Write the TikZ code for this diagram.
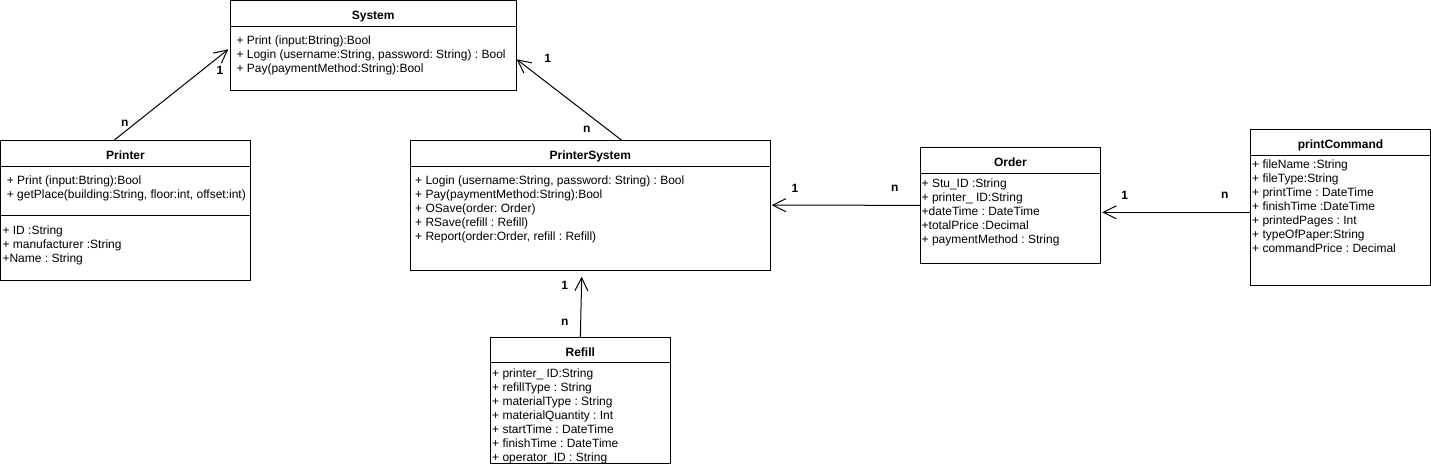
\documentclass[tikz,border=0pt]{standalone}
\usepackage{fontspec}
\setmainfont{Liberation Sans}
\usetikzlibrary{arrows.meta}
\newcommand{\fstrut}{\rule{0pt}{10pt}}
\frenchspacing
\begin{document}
\begin{tikzpicture}[x=1pt,y=-1pt,
  classbox/.style={draw,line width=1pt,anchor=north west,inner sep=0pt,outer sep=0pt},
  divider/.style={line width=1pt},
  ctitle/.style={font=\fontsize{12}{14}\selectfont\bfseries,anchor=base,inner sep=0pt},
  members/.style={font=\fontsize{12}{14}\selectfont\frenchspacing,anchor=north west,align=left,inner sep=0pt},
  mult/.style={font=\fontsize{12}{14}\selectfont\bfseries,inner sep=0pt},
  assoc/.style={line width=1pt,-{Straight Barb[length=13pt,width=13pt,line width=1pt]}}]
\useasboundingbox (0,0) rectangle (1431,464);

% System
\node[classbox,minimum width=285.7pt,minimum height=89.3pt] (system) at (230.3,0.7) {};
\node[ctitle] (systemT) at (373.2,19) {System};
\draw[divider] ([yshift=-25.6pt]system.north west) -- ([yshift=-25.6pt]system.north east);
\node[members] (systemM) at (236.3,34) {\fstrut+ Print (input:Btring):Bool\\+ Login (username:String, password: String) : Bool\\+ Pay(paymentMethod:String):Bool};

% Printer
\node[classbox,minimum width=249.6pt,minimum height=139.7pt] (printer) at (0.7,140.3) {};
\node[ctitle] (printerT) at (125.5,159) {Printer};
\draw[divider] ([yshift=-26pt]printer.north west) -- ([yshift=-26pt]printer.north east);
\node[members] (printerM) at (6.7,174) {\fstrut+ Print (input:Btring):Bool\\+ getPlace(building:String, floor:int, offset:int)};
\draw[divider] ([yshift=-75pt]printer.north west) -- ([yshift=-75pt]printer.north east);
\node[members] (printerA) at (2.3,224) {\fstrut+ ID :String\\+ manufacturer :String\\+Name : String};

% PrinterSystem
\node[classbox,minimum width=360pt,minimum height=129.7pt] (ps) at (410.3,140.3) {};
\node[ctitle] (psT) at (590.3,159.3) {PrinterSystem};
\draw[divider] ([yshift=-26pt]ps.north west) -- ([yshift=-26pt]ps.north east);
\node[members] (psM) at (415,174) {\fstrut+ Login (username:String, password: String) : Bool\\+ Pay(paymentMethod:String):Bool\\+ OSave(order: Order)\\+ RSave(refill : Refill)\\+ Report(order:Order, refill : Refill)};

% Refill
\node[classbox,minimum width=179.3pt,minimum height=126pt] (refill) at (490.7,337.3) {};
\node[ctitle] (refillT) at (580.3,356) {Refill};
\draw[divider] ([yshift=-25pt]refill.north west) -- ([yshift=-25pt]refill.north east);
\node[members] (refillA) at (492,367) {\fstrut+ printer\_ ID:String\\+ refillType : String\\+ materialType : String\\+ materialQuantity : Int\\+ startTime : DateTime\\+ finishTime : DateTime\\+ operator\_ID : String};

% Order
\node[classbox,minimum width=179.8pt,minimum height=116pt] (order) at (920.5,147.3) {};
\node[ctitle] (orderT) at (1010.4,166.6) {Order};
\draw[divider] ([yshift=-26pt]order.north west) -- ([yshift=-26pt]order.north east);
\node[members] (orderA) at (921.5,177) {\fstrut+ Stu\_ID :String\\+ printer\_ ID:String\\+dateTime : DateTime\\+totalPrice :Decimal\\+ paymentMethod : String};

% printCommand
\node[classbox,minimum width=180pt,minimum height=156pt] (pc) at (1250.5,129.3) {};
\node[ctitle] (pcT) at (1340.5,148.3) {printCommand};
\draw[divider] ([yshift=-26pt]pc.north west) -- ([yshift=-26pt]pc.north east);
\node[members] (pcA) at (1252,158.6) {\fstrut+ fileName :String\\+ fileType:String\\+ printTime : DateTime\\+ finishTime :DateTime\\+ printedPages : Int\\+ typeOfPaper:String\\+ commandPrice : Decimal};

% Connectors
\draw[assoc] ([xshift=-11.5pt]printer.north) -- ([xshift=-2pt,yshift=-4pt]system.west);
\draw[assoc] ([xshift=31.4pt]ps.north) -- ([xshift=0.7pt,yshift=-14pt]system.east);
\draw[assoc] (order.west) -- ([xshift=1.5pt]ps.east);
\draw[assoc] ([yshift=-5pt]pc.west) -- ([xshift=2pt,yshift=-7pt]order.east);
\draw[assoc] (refill.north) -- ([xshift=-8.6pt,yshift=-6.7pt]ps.south);

% Multiplicities
\node[mult] (m1) at (124.7,123) {n};
\node[mult] (m2) at (220,70.7) {1};
\node[mult] (m3) at (547.7,58.3) {1};
\node[mult] (m4) at (586.7,129) {n};
\node[mult] (m5) at (795,188.3) {1};
\node[mult] (m6) at (894.7,188.3) {n};
\node[mult] (m7) at (1124.7,195) {1};
\node[mult] (m8) at (1224.7,195) {n};
\node[mult] (m9) at (564.7,285) {1};
\node[mult] (m10) at (564.7,322.3) {n};
\end{tikzpicture}
\end{document}
